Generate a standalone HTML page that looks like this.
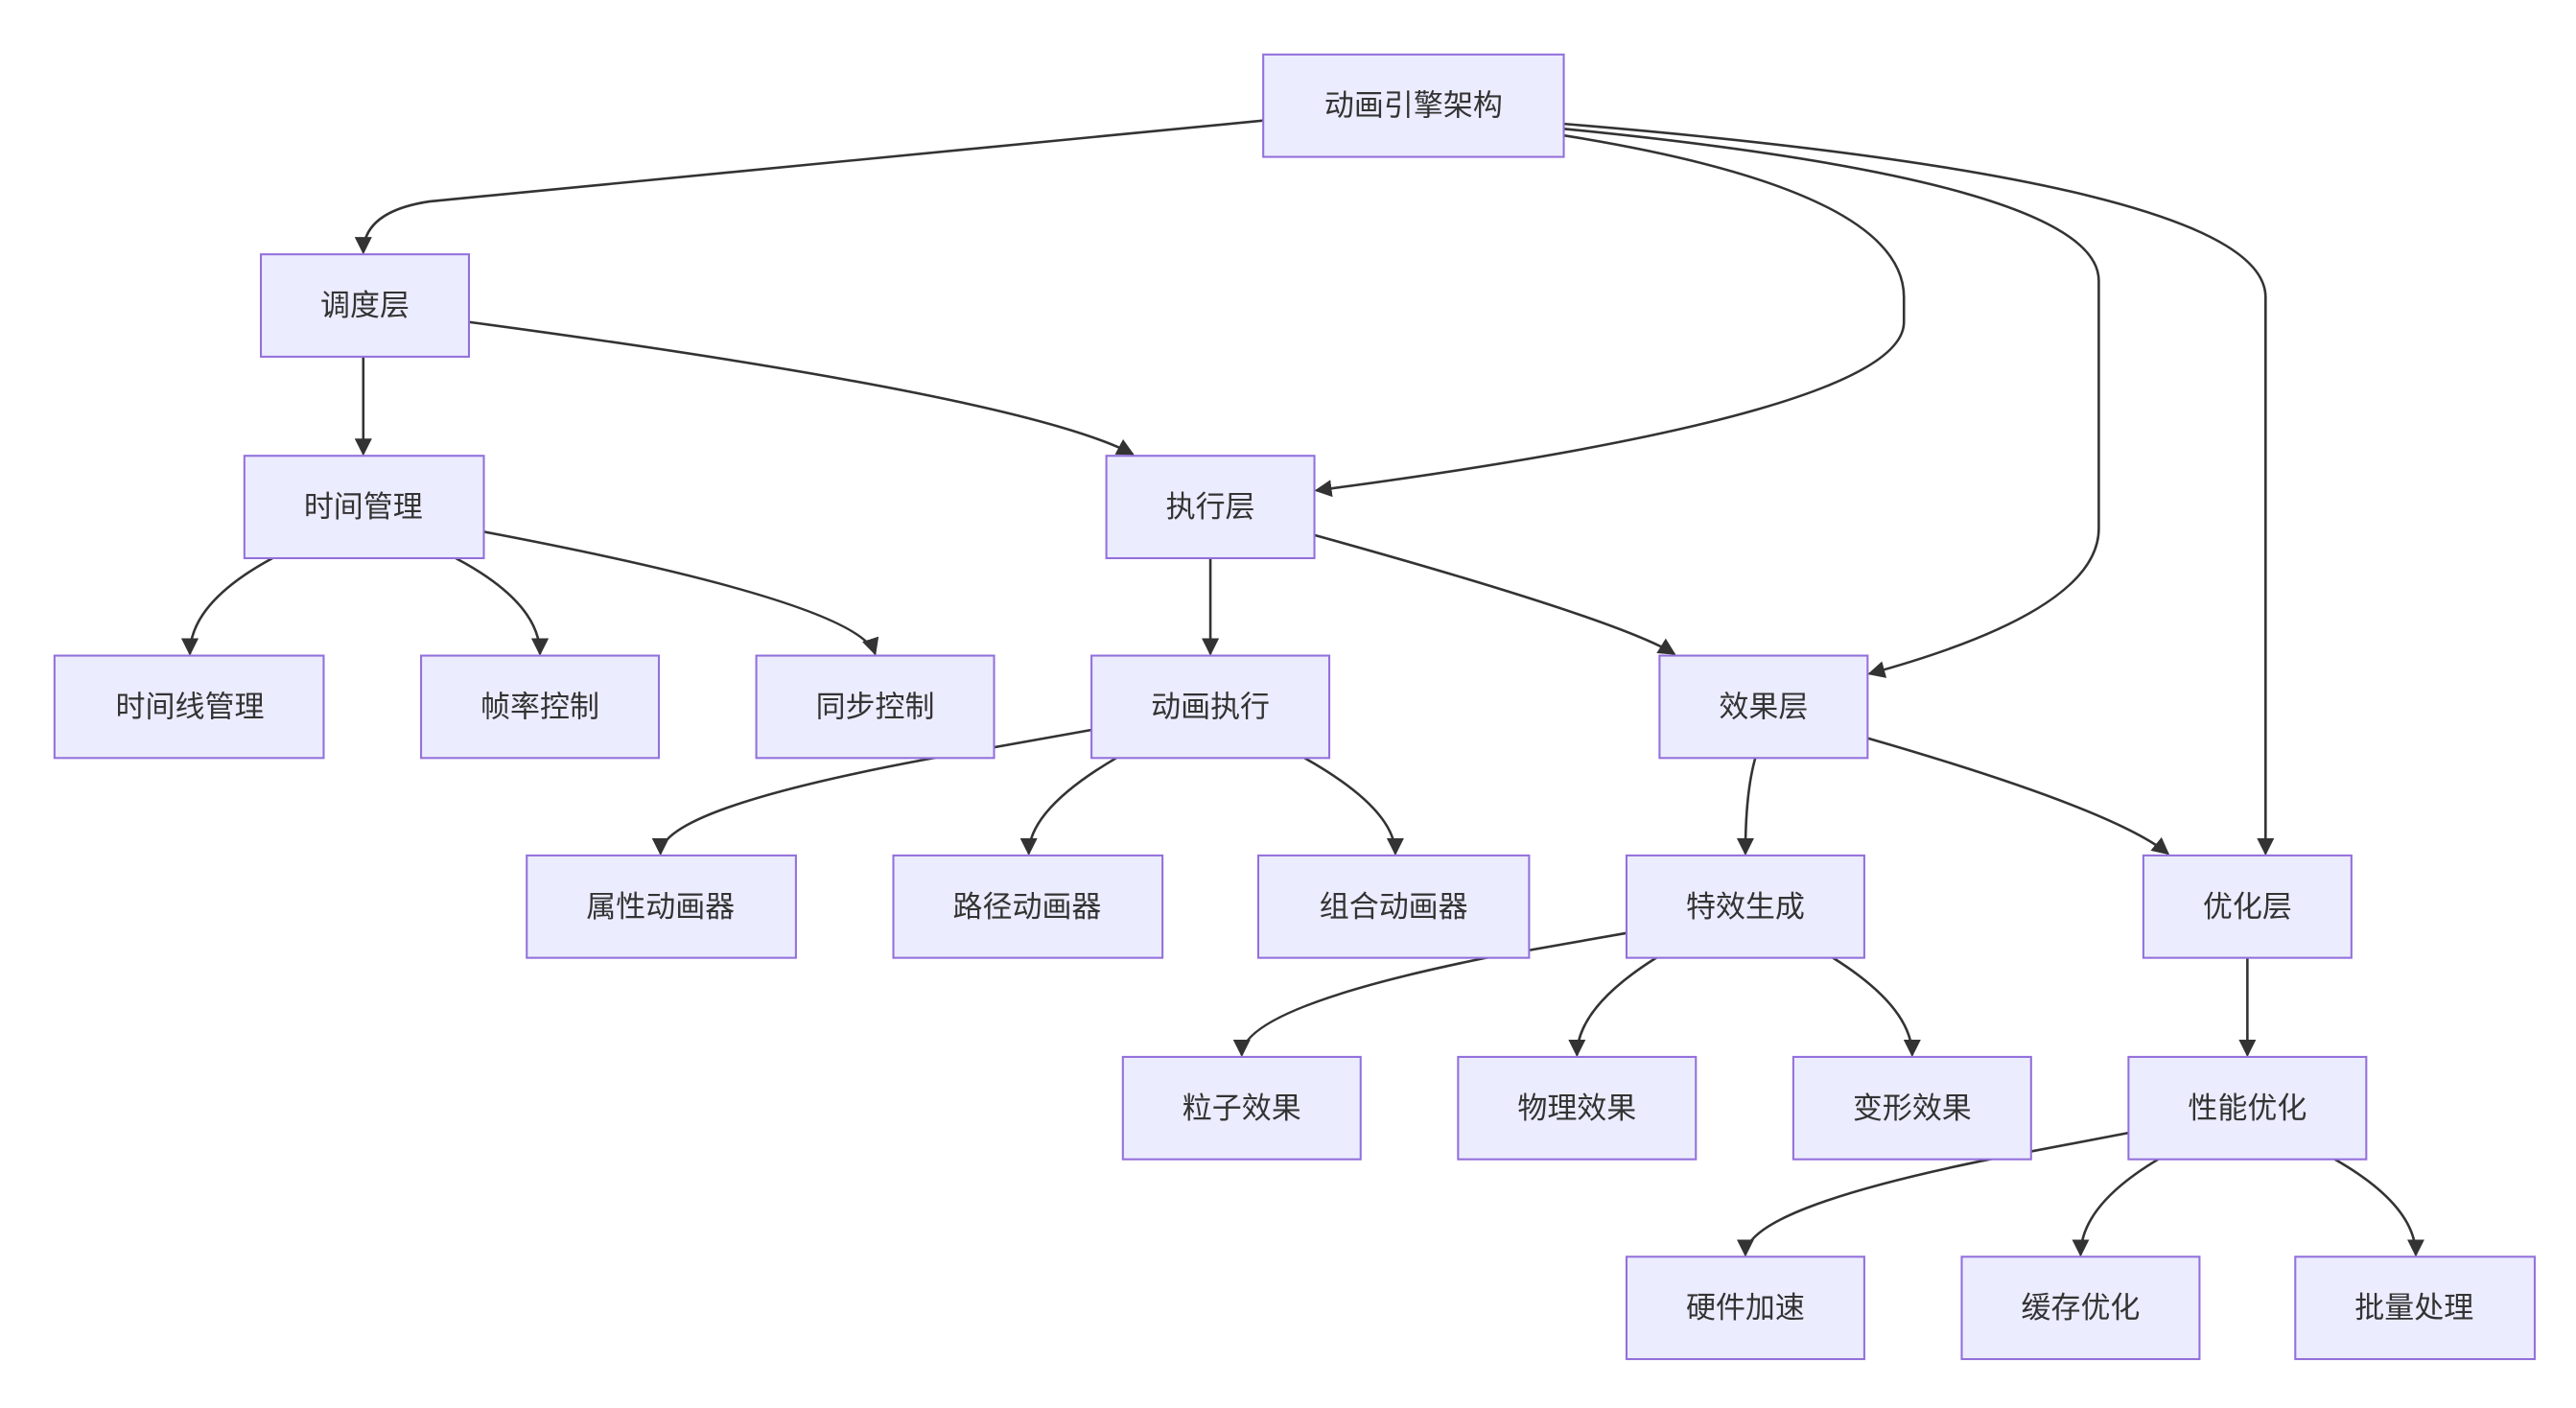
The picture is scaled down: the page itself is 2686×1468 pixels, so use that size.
<!DOCTYPE html>
<html><head><meta charset="utf-8"><style>
html,body{margin:0;padding:0;background:#fff;}
svg{display:block}
text{font-family:"Liberation Sans","Noto Sans CJK SC",sans-serif;font-size:18px;fill:#333;text-anchor:middle;dominant-baseline:central}
rect{fill:#ececff;stroke:#9370db;stroke-width:1.2}
path{fill:none;stroke:#333;stroke-width:1.5}
</style></head><body>
<svg width="2686" height="1468" viewBox="0 0 1560 852.6" xmlns="http://www.w3.org/2000/svg">
<defs><marker id="a" viewBox="0 0 10 10" refX="9" refY="5" markerWidth="7" markerHeight="7" orient="auto"><path d="M0,0L10,5L0,10z" style="fill:#333;stroke:none"/></marker></defs>
<g marker-end="url(#a)">
<path d="M765,73 L260,122 Q220,128 220,153"/>
<path d="M947,82 Q1153,115 1153,180 L1153,195 Q1153,250 797,297"/>
<path d="M947,78 Q1271,110 1271,170 L1271,320 Q1271,370 1132,408"/>
<path d="M947,75 Q1372,110 1372,180 L1372,517"/>
<path d="M220,216 L220,275"/>
<path d="M284,195 Q620,240 686,275"/>
<path d="M165,338 Q115,365 115,396"/>
<path d="M276,338 Q327,365 327,396"/>
<path d="M293,322 Q520,365 530,396"/>
<path d="M733,338 L733,396"/>
<path d="M796,324 Q980,375 1014,396"/>
<path d="M661,442 L560,460 Q400,490 400,517"/>
<path d="M676,459 Q623,490 623,517"/>
<path d="M790,459 Q845,490 845,517"/>
<path d="M1063,459 Q1057,480 1057,517"/>
<path d="M1131,447 Q1280,490 1313,517"/>
<path d="M985,565 L900,580 Q752,610 752,639"/>
<path d="M1003,580 Q955,610 955,639"/>
<path d="M1110,580 Q1158,610 1158,639"/>
<path d="M1361,580 L1361,639"/>
<path d="M1289,686 L1205,702 Q1057,732 1057,760"/>
<path d="M1307,702 Q1260,730 1260,760"/>
<path d="M1414,702 Q1463,730 1463,760"/>
</g>
<rect x="765" y="33" width="182" height="62"/><text x="856" y="64">动画引擎架构</text>
<rect x="158" y="154" width="126" height="62"/><text x="221" y="185">调度层</text>
<rect x="148" y="276" width="145" height="62"/><text x="220" y="307">时间管理</text>
<rect x="670" y="276" width="126" height="62"/><text x="733" y="307">执行层</text>
<rect x="33" y="397" width="163" height="62"/><text x="115" y="428">时间线管理</text>
<rect x="255" y="397" width="144" height="62"/><text x="327" y="428">帧率控制</text>
<rect x="458" y="397" width="144" height="62"/><text x="530" y="428">同步控制</text>
<rect x="661" y="397" width="144" height="62"/><text x="733" y="428">动画执行</text>
<rect x="1005" y="397" width="126" height="62"/><text x="1068" y="428">效果层</text>
<rect x="319" y="518" width="163" height="62"/><text x="400" y="549">属性动画器</text>
<rect x="541" y="518" width="163" height="62"/><text x="622" y="549">路径动画器</text>
<rect x="762" y="518" width="164" height="62"/><text x="844" y="549">组合动画器</text>
<rect x="985" y="518" width="144" height="62"/><text x="1057" y="549">特效生成</text>
<rect x="1298" y="518" width="126" height="62"/><text x="1361" y="549">优化层</text>
<rect x="680" y="640" width="144" height="62"/><text x="752" y="671">粒子效果</text>
<rect x="883" y="640" width="144" height="62"/><text x="955" y="671">物理效果</text>
<rect x="1086" y="640" width="144" height="62"/><text x="1158" y="671">变形效果</text>
<rect x="1289" y="640" width="144" height="62"/><text x="1361" y="671">性能优化</text>
<rect x="985" y="761" width="144" height="62"/><text x="1057" y="792">硬件加速</text>
<rect x="1188" y="761" width="144" height="62"/><text x="1260" y="792">缓存优化</text>
<rect x="1390" y="761" width="145" height="62"/><text x="1462" y="792">批量处理</text>
</svg>
</body></html>
